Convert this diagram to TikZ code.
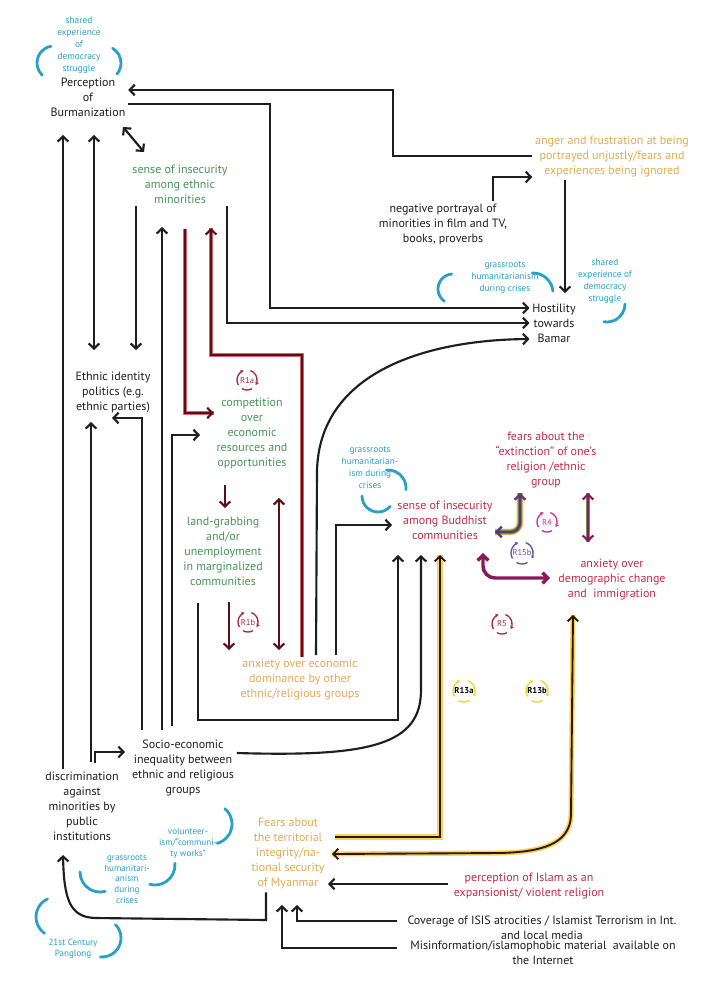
\documentclass[tikz,border=0pt]{standalone}
\usepackage{fontspec}
\setmainfont{PT Sans}
\usetikzlibrary{arrows.meta}

\definecolor{txtblack}{RGB}{30,30,30}
\definecolor{txtgreen}{RGB}{72,150,88}
\definecolor{txtorange}{RGB}{228,170,80}
\definecolor{txtred}{RGB}{196,44,72}
\definecolor{txtblue}{RGB}{40,160,200}
\definecolor{loopred}{RGB}{96,14,22}
\definecolor{looppink}{RGB}{214,100,112}
\definecolor{glowyellow}{RGB}{248,212,90}
\definecolor{corebrown}{RGB}{48,20,6}
\definecolor{lgreen}{RGB}{104,150,80}
\definecolor{lpurple}{RGB}{96,52,120}
\definecolor{lmagenta}{RGB}{140,24,92}
\definecolor{iconred}{RGB}{170,40,70}
\definecolor{iconmag}{RGB}{204,50,150}
\definecolor{iconpurple}{RGB}{100,80,160}
\definecolor{iconyellow}{RGB}{240,214,40}

\tikzset{
  lbl/.style={align=center, inner sep=2pt, font=\fontsize{9}{11.25}\selectfont, text=txtblack},
  bluetxt/.style={align=center, inner sep=1pt, font=\fontsize{7}{9}\selectfont, text=txtblue},
  bluearc/.style={draw=txtblue, line width=2.1pt, line cap=round},
  arr/.style={draw=txtblack, line width=1.6pt, -{Straight Barb[length=3.8pt,width=8pt]}},
  arrb/.style={draw=txtblack, line width=1.6pt, {Straight Barb[length=3.8pt,width=8pt]}-{Straight Barb[length=3.8pt,width=8pt]}},
  redloop/.style={draw=loopred, line width=1.6pt, preaction={draw=looppink, line width=3.6pt, -},
    -{Straight Barb[length=3.8pt,width=8pt]}},
  darkred/.style={draw=loopred, line width=1.6pt, -{Straight Barb[length=3.8pt,width=8pt]}},
  darkredb/.style={draw=loopred, line width=1.6pt, {Straight Barb[length=3.8pt,width=8pt]}-{Straight Barb[length=3.8pt,width=8pt]}},
  yellowline/.style={draw=corebrown, line width=1.4pt, preaction={draw=glowyellow, line width=3.8pt, -}},
}

% loop symbol: name, position, label, arc colour, label colour, radius
\newcommand{\loopicon}[6]{%
  \node[inner sep=0pt, text=#5, font=\fontsize{6.4}{7}\selectfont] (#1) at (#2) {#3};
  \draw[#4, line width=1pt, -{Stealth[length=2.4pt,width=2.8pt]}] (#1.center) ++(150:#6) arc[start angle=150, end angle=250, radius=#6];
  \draw[#4, line width=1pt, -{Stealth[length=2.4pt,width=2.8pt]}] (#1.center) ++(-70:#6) arc[start angle=-70, end angle=30, radius=#6];
  \draw[#4, line width=1pt] (#1.center) ++(60:#6) arc[start angle=60, end angle=120, radius=#6];
}

\begin{document}
\begin{tikzpicture}[x=0.75pt,y=0.75pt,yscale=-1,xscale=1]
\path[use as bounding box, fill=white] (0,0) rectangle (713,987);

% Text Node
\node[bluetxt] (shareda) at (79,45) {shared\\experience\\of\\democracy\\struggle};
\node[lbl] (perc) at (88,97) {Perception\\of\\Burmanization};
\node[lbl, text=txtgreen] (ethins) at (180,184) {sense of insecurity\\among ethnic\\minorities};
\node[lbl, text=txtorange] (anger) at (612,157) {anger and frustration at being\\portrayed unjustly/fears and\\experiences being ignored};
\node[lbl] (negport) at (443,224) {negative portrayal of\\minorities in film and TV,\\books, proverbs};
\node[lbl] (host) at (554,323) {Hostility\\towards\\Bamar};
\node[bluetxt] (grassa) at (505,278) {grassroots\\humanitarianism\\during crises};
\node[bluetxt] (sharedb) at (605,281) {shared\\experience of\\democracy\\struggle};
\node[lbl] (ethid) at (113,393) {Ethnic identity\\politics (e.g.\\ethnic parties)};
\node[lbl, text=txtgreen] (comp) at (252,433) {competition\\over\\economic\\resources and\\opportunities};
\node[lbl, text=txtgreen] (land) at (223,551) {land-grabbing\\and/or\\unemployment\\in marginalized\\communities};
\node[lbl, text=txtorange] (anxecon) at (300,680) {anxiety over economic\\dominance by other\\ethnic/religious groups};
\node[bluetxt] (grassb) at (370,468) {grassroots\\humanitarian-\\ism during\\crises};
\node[lbl, text=txtred] (budd) at (445,520) {sense of insecurity\\among Buddhist\\communities};
\node[lbl, text=txtred] (extinct) at (546,460) {fears about the\\“extinction” of one’s\\religion /ethnic\\group};
\node[lbl, text=txtred] (demog) at (612,580) {anxiety over\\demographic change\\and~ immigration};
\node[lbl] (socio) at (183,768) {Socio-economic\\inequality between\\ethnic and religious\\groups};
\node[lbl] (discr) at (82,806) {discrimination\\against\\minorities by\\public\\institutions};
\node[bluetxt, font=\fontsize{6.8}{8.3}\selectfont] (volun) at (188,843) {volunteer-\\ism/“communi-\\ty works”};
\node[bluetxt, font=\fontsize{6.8}{8}\selectfont] (grassc) at (127,879) {grassroots\\humanitari-\\anism\\during\\crises};
\node[bluetxt, font=\fontsize{6.8}{8.3}\selectfont] (pang) at (73,949) {21st Century\\Panglong};
\node[lbl, text=txtorange] (fearsterr) at (288,854) {Fears about\\the territorial\\integrity/na-\\tional security\\of Myanmar};
\node[lbl, text=txtred] (islam) at (529,886) {perception of Islam as an\\expansionist/ violent religion};
\node[lbl] (isis) at (542,928) {Coverage of ISIS atrocities / Islamist Terrorism in Int.\\and local media};
\node[lbl] (misinfo) at (543,953) {Misinformation/islamophobic material~ available on\\the Internet};

% Loop symbols
\loopicon{rone}{247,380}{R1a}{iconred}{iconred}{10}
\loopicon{rtwo}{248,622}{R1b}{iconred}{iconred}{10}
\loopicon{rfour}{547,522}{R4}{iconmag}{iconmag}{10}
\loopicon{rfive}{522,553}{R15b}{iconpurple}{iconpurple}{11}
\loopicon{rsix}{502,624}{R5}{iconred}{iconred}{10}
\loopicon{rseven}{464,691}{\bfseries R13a}{iconyellow}{black}{11}
\loopicon{reight}{537,691}{\bfseries R13b}{iconyellow}{black}{11}

% Shape: Arc
\draw[bluearc] (54,63) ++(260:17) arc[start angle=260, end angle=135, radius=17];
\draw[bluearc] (104,63) ++(-60:17) arc[start angle=-60, end angle=40, radius=17];
\draw[bluearc] (453,289) ++(265:15) arc[start angle=265, end angle=125, radius=15];
\draw[bluearc] (533,293) ++(-92:20) arc[start angle=-92, end angle=-5, radius=20];
\draw[bluearc] (607,304) ++(0:18) arc[start angle=0, end angle=100, radius=18];
\draw[bluearc] (388,488) ++(-95:18) arc[start angle=-95, end angle=5, radius=18];
\draw[bluearc] (378,496) ++(180:16) arc[start angle=180, end angle=40, radius=16];
\draw[bluearc] (212,824) ++(-50:20) arc[start angle=-50, end angle=75, radius=20];
\draw[bluearc] (155,865) ++(-5:20) arc[start angle=-5, end angle=105, radius=20];
\draw[bluearc] (100,872) ++(180:20) arc[start angle=180, end angle=75, radius=20];
\draw[bluearc] (56,917) ++(245:20) arc[start angle=245, end angle=125, radius=20];
\draw[bluearc] (102,938) ++(-45:19) arc[start angle=-45, end angle=95, radius=19];

% Straight Lines: top part
\draw[arr] (anger.west |- 0,156) -- (393,156) -- (393,90) -- (perc.east |- 0,90);
\draw[arr] (perc.east |- 0,104) -| (270,308) -- (host.west |- 0,308);
\draw[arr] (ethins.south -| 227,0) |- (host.west |- 0,323);
\draw[arr] (ethins.south -| 136,0) -- (136,350);
\draw[arrb] (94,135) -- (94,350);
\draw[arrb] (123,127) -- (144,152);
\draw[arr] (negport.north -| 493,0) |- (anger.west |- 0,177);
\draw[arr] (anger.south -| 565,0) -- (565,293);

% Straight Lines: R1a / R1b
\draw[redloop] (185,229) |- (comp.west |- 0,413);
\draw[redloop] (anxecon.north -| 302,0) |- (211,355) -- (211,228);
\draw[darkred] (225,485) -- (225,508);
\draw[darkred] (229,602) -- (229,650);
\draw[darkredb] (279,498) -- (279,650);

% Straight Lines: middle
\draw[arr] (316,655) -- (317,470) .. controls (320,375) and (420,340) .. (host.west |- 0,339);
\draw[arr] (336,655) |- (392,525);
\draw[arr] (198,603) |- (398,720) -- (398,555);
\draw[arr] (socio.east |- 0,753) .. controls (370,757) and (421,745) .. (421,690) -- (421,555);
\draw[arr] (172,726) |- (200,435);
\draw[arr] (162,730) -- (162,227);
\draw[arr] (142,730) |- (112,418);
\draw[arr] (91,762) -- (91,422);
\draw[arr] (95,763) |- (125,752);
\draw[arr] (discr.north -| 63,0) -- (63,135);

% Straight Lines: Buddhist cluster
\draw[draw=lpurple, line width=1.8pt, rounded corners=7pt,
  preaction={draw=glowyellow, line width=5pt, -},
  preaction={draw=lgreen, line width=3.4pt, -},
  {Straight Barb[length=3.8pt,width=8pt]}-{Straight Barb[length=3.8pt,width=8pt]}]
  (495,532) -| (520,493);
\draw[draw=lmagenta, line width=1.6pt, preaction={draw=lgreen, line width=3.4pt, -},
  {Straight Barb[length=3.8pt,width=8pt]}-{Straight Barb[length=3.8pt,width=8pt]}]
  (588,493) -- (588,542);
\draw[draw=lmagenta, line width=2.6pt, rounded corners=9pt,
  {Straight Barb[length=3.8pt,width=8pt]}-{Straight Barb[length=3.8pt,width=8pt]}]
  (483,553) |- (550,578);

% Straight Lines: bottom part
\draw[yellowline, -{Straight Barb[length=3.8pt,width=8pt]}] (335,837) -| (440,555);
\draw[yellowline, {Straight Barb[length=3.8pt,width=8pt]}-{Straight Barb[length=3.8pt,width=8pt]}]
  (573,615) -- (571,815) .. controls (570,845) and (540,852) .. (500,853) -- (332,854);
\draw[arr] (448,884) -- (328,884);
\draw[arr] (397,921) -| (297,905);
\draw[arr] (397,948) -| (282,905);
\draw[arr] (fearsterr.south -| 266,0) -- (266,920) -- (95,918) .. controls (70,917) and (64,900) .. (63,855);

\end{tikzpicture}
\end{document}
